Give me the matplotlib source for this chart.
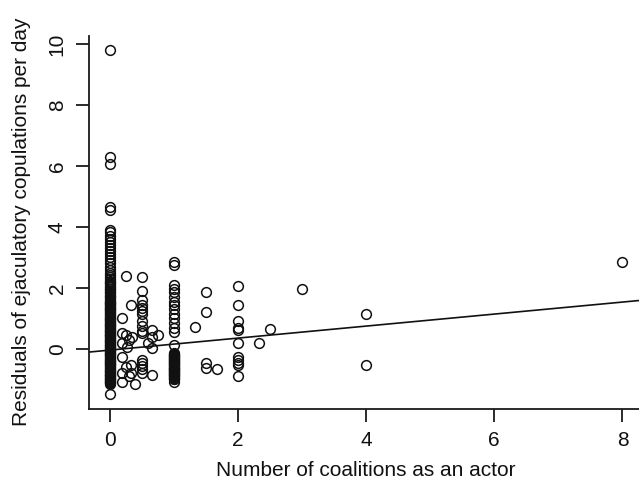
import matplotlib
matplotlib.use("Agg")
import matplotlib.pyplot as plt

plt.rcParams['font.family'] = ['Liberation Sans', 'DejaVu Sans']

# ---- data ----
y_x0 = [9.8, 6.3, 6.05, 4.65, 4.55, 3.9, 3.82, 3.7, 3.6, 3.52, 3.4, 3.3, 3.22, 3.1, 3.0,
        2.9, 2.82, 2.7, 2.6, 2.5, 2.42, 2.35, 2.3, 2.24, 2.2, 2.15, 2.12, 2.06, 2.02, 1.98,
        1.95, 1.9, 1.86, 1.82, 1.78, 1.74, 1.7, 1.66, 1.62, 1.58, 1.55, 1.52, 1.5, 1.47,
        1.44, 1.41, 1.38, 1.35, 1.32, 1.3, 1.27, 1.23, 1.2, 1.17, 1.14, 1.11, 1.08, 1.05,
        1.02, 0.99, 0.97, 0.94, 0.91, 0.88, 0.86, 0.83, 0.8, 0.77, 0.74, 0.71, 0.69, 0.66,
        0.63, 0.6, 0.58, 0.55, 0.52, 0.49, 0.47, 0.44, 0.41, 0.38, 0.36, 0.33, 0.3, 0.27,
        0.25, 0.22, 0.19, 0.16, 0.14, 0.11, 0.08, 0.05, 0.03, 0.0, -0.02, -0.05, -0.07,
        -0.1, -0.13, -0.16, -0.18, -0.21, -0.24, -0.27, -0.29, -0.32, -0.35, -0.38, -0.4,
        -0.43, -0.46, -0.49, -0.51, -0.54, -0.57, -0.6, -0.62, -0.65, -0.68, -0.71, -0.73,
        -0.76, -0.79, -0.82, -0.84, -0.87, -0.9, -0.93, -0.95, -0.98, -1.0, -1.03, -1.05,
        -1.08, -1.1, -1.13, -1.15, -1.48]

x_small = [0.25, 0.2, 0.33, 0.2, 0.25, 0.35, 0.2, 0.3, 0.27, 0.2, 0.25, 0.33, 0.2, 0.33,
           0.3, 0.2, 0.4]
y_small = [2.4, 1.0, 1.44, 0.53, 0.45, 0.4, 0.2, 0.3, 0.05, -0.25, -0.6, -0.52, -0.8,
           -0.8, -0.9, -1.1, -1.15]

y_x05 = [2.36, 1.9, 1.6, 1.45, 1.35, 1.25, 1.15, 0.9, 0.75, 0.6, 0.52, -0.36, -0.45,
         -0.55, -0.65, -0.8]

x_mid = [0.67, 0.67, 0.67, 0.67, 0.75, 0.6]
y_mid = [0.62, 0.4, 0.03, -0.85, 0.45, 0.2]

y_x1 = [2.85, 2.75, 2.1, 1.95, 1.85, 1.7, 1.55, 1.45, 1.3, 1.15, 1.0, 0.85, 0.7, 0.55,
        0.13, -0.15, -0.17, -0.19, -0.21, -0.23, -0.26, -0.28, -0.3, -0.32, -0.34, -0.36,
        -0.39, -0.41, -0.43, -0.45, -0.47, -0.5, -0.52, -0.54, -0.56, -0.58, -0.61, -0.63,
        -0.65, -0.67, -0.7, -0.72, -0.74, -0.76, -0.78, -0.8, -0.83, -0.85, -0.87, -0.9,
        -0.92, -0.95, -0.97, -1.0, -1.07]

x_rest = [1.33, 1.5, 1.5, 1.5, 1.5, 1.67, 2, 2, 2, 2, 2, 2, 2, 2, 2, 2, 2,
          2.33, 2.5, 3, 4, 4, 8]
y_rest = [0.73, 1.88, 1.22, -0.45, -0.62, -0.66, 2.07, 1.44, 0.92, 0.69, 0.62, 0.19,
          -0.25, -0.35, -0.45, -0.52, -0.89, 0.19, 0.65, 1.97, 1.14, -0.52, 2.86]

fit_intercept = -0.04
fit_slope = 0.197

x_ticks = [0, 2, 4, 6, 8]
y_ticks = [0, 2, 4, 6, 8, 10]

x_label = "Number of coalitions as an actor"
y_label = "Residuals of ejaculatory copulations per day"

# ---- assemble ----
xs = ([0] * len(y_x0) + x_small + [0.5] * len(y_x05) + x_mid + [1] * len(y_x1) + x_rest)
ys = (y_x0 + y_small + y_x05 + y_mid + y_x1 + y_rest)

W, H = 639, 488
fig = plt.figure(figsize=(W / 100, H / 100), dpi=100)
L, R, T, B = 89, 643, 36, 409
ax = fig.add_axes([L / W, (H - B) / H, (R - L) / W, (B - T) / H])

ax.plot(xs, ys, linestyle='none', marker='o', markersize=7.0,
        markerfacecolor='none', markeredgecolor='#111111', markeredgewidth=1.1)
ax.axline((0, fit_intercept), slope=fit_slope, color='#111111', linewidth=1.2)

ax.set_xlim(-0.32, 8.32)
ax.set_ylim(-1.97, 10.26)
ax.set_xticks(x_ticks)
ax.set_yticks(y_ticks)
ax.set_xticklabels([str(v) for v in x_ticks])
ax.set_yticklabels([str(v) for v in y_ticks], rotation=90, va='center')

for s in ['top', 'right']:
    ax.spines[s].set_visible(False)
for s in ['left', 'bottom']:
    ax.spines[s].set_linewidth(1.3)
    ax.spines[s].set_color('#1a1a1a')

ax.tick_params(axis='both', direction='out', length=9.5, width=1.3, color='#1a1a1a',
               labelsize=15, labelcolor='#111111')
ax.tick_params(axis='x', pad=6.5)
ax.tick_params(axis='y', pad=6.5)

fig.text((L + R) / 2 / W, 1 - 470 / H, x_label, ha='center', va='center',
         fontsize=15, color='#111111')
fig.text(22 / W, 1 - 222 / H, y_label, ha='center', va='center', rotation=90,
         fontsize=15, color='#111111')

fig.savefig('out.png', dpi=100)
